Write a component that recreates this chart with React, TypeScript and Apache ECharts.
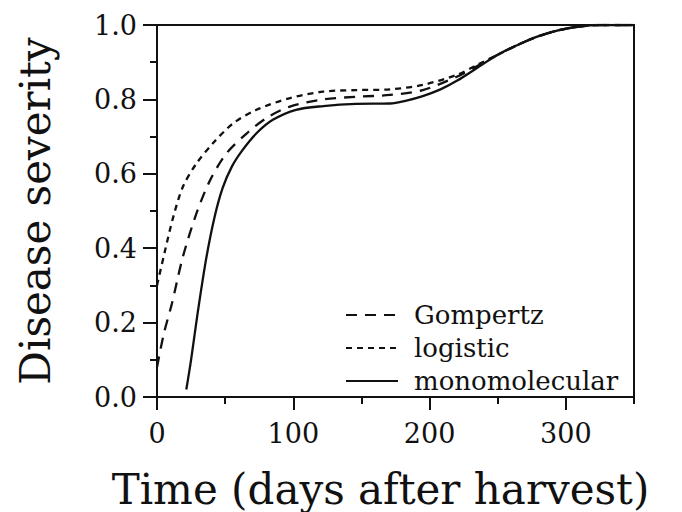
import React, { useEffect, useRef } from "react";
import * as echarts from "echarts";

const gompertzDays = [0, 5, 11, 19, 29, 39, 51, 66, 80, 97, 122, 146, 171, 195, 220, 235, 250, 265, 280, 295, 310, 325, 350];
const gompertzSeverity = [0.08, 0.17, 0.252, 0.377, 0.494, 0.583, 0.655, 0.709, 0.749, 0.78, 0.8, 0.807, 0.812, 0.825, 0.861, 0.89, 0.92, 0.947, 0.97, 0.986, 0.996, 1.0, 1.0];

const logisticDays = [0, 6, 12, 19, 29, 41, 56, 73, 97, 122, 146, 171, 195, 220, 235, 250, 265, 280, 295, 310, 325, 350];
const logisticSeverity = [0.3, 0.395, 0.485, 0.565, 0.628, 0.682, 0.736, 0.772, 0.803, 0.821, 0.825, 0.827, 0.839, 0.866, 0.893, 0.92, 0.947, 0.97, 0.986, 0.996, 1.0, 1.0];

const monoDays = [21.5, 25, 30, 36, 42, 48, 55, 63, 73, 85, 102, 122, 146, 171, 183, 195, 208, 220, 235, 250, 265, 280, 295, 310, 325, 350];
const monoSeverity = [0.02, 0.1, 0.23, 0.37, 0.48, 0.56, 0.62, 0.665, 0.709, 0.745, 0.772, 0.782, 0.788, 0.789, 0.797, 0.809, 0.827, 0.85, 0.885, 0.92, 0.947, 0.97, 0.986, 0.996, 1.0, 1.0];

const seriesNames = ["Gompertz", "logistic", "monomolecular"];
const xMajorTicks = [0, 100, 200, 300];
const xMinorTicks = [50, 150, 250, 350];

const FONT = "DejaVu Serif";
const INK = "#111";

const pairs = (xs: number[], ys: number[]) => xs.map((x, i) => [x, ys[i]]);

export default function App() {
  const ref = useRef<HTMLDivElement>(null);
  useEffect(() => {
    if (!ref.current) return;
    const chart = echarts.init(ref.current, null, { renderer: "svg" });
    const lineBase = { type: "line", symbol: "none", smooth: 0.3, xAxisIndex: 0, yAxisIndex: 0 };
    chart.setOption({
      animation: false,
      backgroundColor: "#fff",
      grid: {
        left: 157, right: 48, top: 25, bottom: 115,
        show: true, borderColor: INK, borderWidth: 2, backgroundColor: "transparent",
        containLabel: false, outerBoundsMode: "none",
      },
      legend: {
        orient: "vertical",
        left: 345, top: 302,
        padding: 0,
        itemWidth: 52, itemHeight: 20, itemGap: 7,
        data: seriesNames,
        itemStyle: { opacity: 0, borderWidth: 0 },
        textStyle: { fontFamily: FONT, fontSize: 26, color: INK, padding: [0, 0, 0, 11] },
      },
      xAxis: [
        {
          type: "value", min: 0, max: 350, position: "bottom",
          name: "Time (days after harvest)", nameLocation: "middle", nameGap: 71,
          nameTextStyle: { fontFamily: FONT, fontSize: 42, color: INK, padding: [0, 30, 0, 0] },
          axisLine: { show: true, lineStyle: { color: INK, width: 2 } },
          axisTick: { show: true, length: 13, lineStyle: { color: INK, width: 2 }, customValues: xMajorTicks },
          axisLabel: { show: true, fontFamily: FONT, fontSize: 27, color: INK, margin: 23, customValues: xMajorTicks },
          splitLine: { show: false },
        },
        {
          type: "value", min: 0, max: 350, position: "bottom", offset: 0,
          axisLine: { show: false },
          axisTick: { show: true, length: 7, lineStyle: { color: INK, width: 2 }, customValues: xMinorTicks },
          axisLabel: { show: false },
          splitLine: { show: false },
        },
      ],
      yAxis: {
        type: "value", min: 0, max: 1, interval: 0.2,
        name: "Disease severity", nameLocation: "middle", nameGap: 101,
        nameTextStyle: { fontFamily: FONT, fontSize: 42, color: INK },
        axisLine: { show: true, lineStyle: { color: INK, width: 2 } },
        axisTick: { show: true, length: 14, lineStyle: { color: INK, width: 2 } },
        minorTick: { show: true, splitNumber: 2, length: 7, lineStyle: { color: INK, width: 2 } },
        axisLabel: { fontFamily: FONT, fontSize: 27, color: INK, margin: 20, formatter: (v: number) => v.toFixed(1) },
        splitLine: { show: false },
      },
      series: [
        { ...lineBase, name: seriesNames[0], data: pairs(gompertzDays, gompertzSeverity), lineStyle: { color: INK, width: 2.3, type: [11, 8] }, itemStyle: { color: INK } },
        { ...lineBase, name: seriesNames[1], data: pairs(logisticDays, logisticSeverity), lineStyle: { color: INK, width: 2.3, type: [6, 5] }, itemStyle: { color: INK } },
        { ...lineBase, name: seriesNames[2], data: pairs(monoDays, monoSeverity), lineStyle: { color: INK, width: 2.3, type: "solid" }, itemStyle: { color: INK } },
      ],
    });
    return () => chart.dispose();
  }, []);
  return <div ref={ref} style={{ position: "fixed", left: 0, top: 0, width: 682, height: 512 }} />;
}
